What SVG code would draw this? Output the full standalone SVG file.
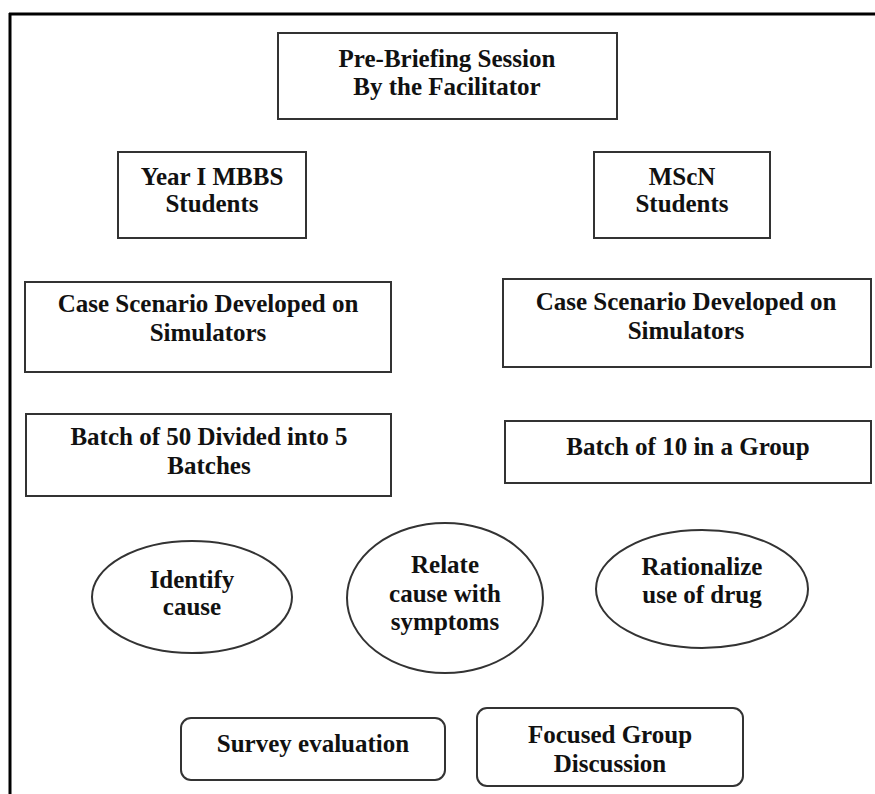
<svg xmlns="http://www.w3.org/2000/svg" width="875" height="794" viewBox="0 0 875 794">
<style>
.b{fill:#fff;stroke:#333;stroke-width:2}
.t{font-family:"Liberation Serif","Times New Roman",serif;font-weight:bold;font-size:25px;fill:#111;text-anchor:middle}
</style>
<rect width="875" height="794" fill="#fff"/>
<g id="frame">
<line x1="9" y1="14" x2="875" y2="14" stroke="#000" stroke-width="3"/>
<line x1="10" y1="13" x2="10" y2="794" stroke="#000" stroke-width="3"/>
</g>
<g id="connectors"></g>
<g id="prebriefing">
<rect class="b" x="278" y="33" width="339" height="86"/>
<text class="t" x="447" y="67">Pre-Briefing Session</text>
<text class="t" x="447" y="95">By the Facilitator</text>
</g>
<g id="mbbs">
<rect class="b" x="118" y="152" width="188" height="86"/>
<text class="t" x="212" y="185">Year I MBBS</text>
<text class="t" x="212" y="212">Students</text>
</g>
<g id="mscn">
<rect class="b" x="594" y="152" width="176" height="86"/>
<text class="t" x="682" y="185">MScN</text>
<text class="t" x="682" y="212">Students</text>
</g>
<g id="case-left">
<rect class="b" x="25" y="282" width="366" height="90"/>
<text class="t" x="208" y="312">Case Scenario Developed on</text>
<text class="t" x="208" y="341">Simulators</text>
</g>
<g id="case-right">
<rect class="b" x="503" y="279" width="368" height="88"/>
<text class="t" x="686" y="310">Case Scenario Developed on</text>
<text class="t" x="686" y="339">Simulators</text>
</g>
<g id="batch50">
<rect class="b" x="26" y="414" width="365" height="82"/>
<text class="t" x="209" y="445">Batch of 50 Divided into 5</text>
<text class="t" x="209" y="474">Batches</text>
</g>
<g id="batch10">
<rect class="b" x="505" y="421" width="366" height="62"/>
<text class="t" x="688" y="455">Batch of 10 in a Group</text>
</g>
<g id="identify">
<ellipse class="b" cx="192" cy="597" rx="100" ry="56"/>
<text class="t" x="192" y="588">Identify</text>
<text class="t" x="192" y="615">cause</text>
</g>
<g id="relate">
<ellipse class="b" cx="445" cy="598" rx="98" ry="75"/>
<text class="t" x="445" y="573">Relate</text>
<text class="t" x="445" y="602">cause with</text>
<text class="t" x="445" y="630">symptoms</text>
</g>
<g id="rationalize">
<ellipse class="b" cx="702" cy="589" rx="106" ry="59"/>
<text class="t" x="702" y="575">Rationalize</text>
<text class="t" x="702" y="603">use of drug</text>
</g>
<g id="survey">
<rect class="b" x="181" y="718" width="264" height="62" rx="10"/>
<text class="t" x="313" y="752">Survey evaluation</text>
</g>
<g id="fgd">
<rect class="b" x="477" y="708" width="266" height="78" rx="10"/>
<text class="t" x="610" y="743">Focused Group</text>
<text class="t" x="610" y="772">Discussion</text>
</g>
</svg>
